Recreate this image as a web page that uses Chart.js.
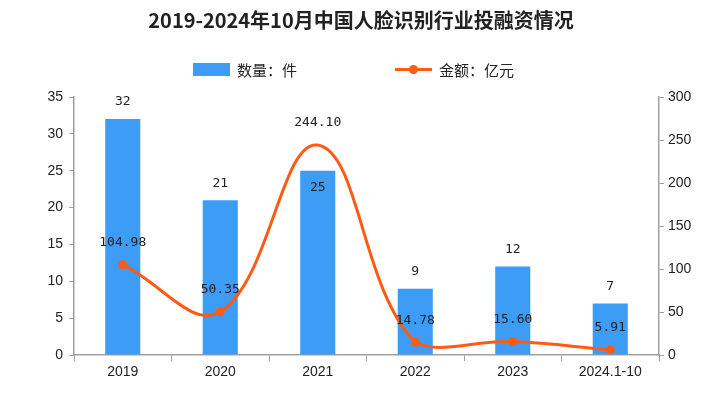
<!DOCTYPE html>
<html>
<head>
<meta charset="utf-8">
<script src="https://cdn.jsdelivr.net/npm/chart.js@4.4.1/dist/chart.umd.min.js"></script>
<style>
  body{margin:0;background:#fff;}
  #wrap{position:relative;width:722px;height:394px;}
  #legend{position:absolute;top:59px;left:0;width:722px;height:20px;font:15px "Noto Sans CJK SC",sans-serif;color:#222;}
  .item{position:absolute;top:0;height:20px;display:flex;align-items:center;}
  .box{width:37px;height:13px;margin-right:7px;}
  .ln{position:relative;width:37px;height:3px;margin-right:7px;}
  .ln i{position:absolute;left:14px;top:-3px;width:9px;height:9px;border-radius:50%;}
</style>
</head>
<body>
<div id="wrap">
  <canvas id="chart" width="722" height="394"></canvas>
  <div id="legend"></div>
</div>
<script>
// data
const years = ["2019", "2020", "2021", "2022", "2023", "2024.1-10"];
const counts = [32, 21, 25, 9, 12, 7];
const amounts = [104.98, 50.35, 244.10, 14.78, 15.60, 5.91];
const countTicks = {min: 0, max: 35, step: 5};
const amountTicks = {min: 0, max: 300, step: 50};

const barColor = "#3d9cf5";
const lineColor = "#ff5b14";
const axisColor = "#a0a0a0";

// numbers over the marks
const valueLabels = {
  id: "valueLabels",
  afterDatasetsDraw(chart) {
    let ctx = chart.ctx;
    let bars = chart.getDatasetMeta(0).data;
    let pts = chart.getDatasetMeta(1).data;
    ctx.save();
    ctx.font = '13px "DejaVu Sans Mono"';
    ctx.fillStyle = "#222";
    ctx.textAlign = "center";
    ctx.textBaseline = "middle";
    bars.forEach((bar, i) => {
      let y = bar.y - 17;
      // put it inside the bar when the line label sits just above
      if (pts[i].y < bar.y && bar.y - pts[i].y < 45) y = bar.y + 17;
      ctx.fillText(counts[i], bar.x, y);
    });
    pts.forEach((pt, i) => {
      ctx.fillText(amounts[i].toFixed(2), pt.x, pt.y - 22);
    });
    ctx.restore();
  }
};

const chartX = document.getElementById("chart").getContext("2d");
const config = new Chart(chartX, {
  type: "bar",
  data: {
    labels: years,
    datasets: [{
      label: "数量：件",
      data: counts,
      backgroundColor: barColor,
      barPercentage: 0.36,
      categoryPercentage: 1,
      yAxisID: "y",
      order: 1
    },
    {
      type: "line",
      label: "金额：亿元",
      data: amounts,
      borderColor: lineColor,
      backgroundColor: lineColor,
      borderWidth: 3,
      tension: 0.4,
      pointRadius: [4.5, 4.5, 0, 4.5, 4.5, 4.5],
      pointBackgroundColor: lineColor,
      pointBorderWidth: 0,
      yAxisID: "y1",
      order: 0
    }]
  },
  options: {
    responsive: false,
    animation: false,
    layout: {padding: 0},
    plugins: {
      legend: {display: false},
      tooltip: {enabled: false},
      title: {
        display: true,
        text: "2019-2024年10月中国人脸识别行业投融资情况",
        color: "#222",
        font: {size: 20, weight: "bold", family: '"Noto Sans CJK SC", sans-serif', lineHeight: 1.2},
        padding: {top: 8, bottom: 65}
      }
    },
    scales: {
      x: {
        offset: true,
        grid: {offset: true, drawOnChartArea: false, tickLength: 6, color: axisColor},
        border: {color: axisColor, width: 1.5},
        ticks: {color: "#222", font: {size: 14, family: "Liberation Sans"}, padding: 3, maxRotation: 0},
        afterFit(s) { s.height = 39; }
      },
      y: {
        position: "left",
        min: countTicks.min,
        max: countTicks.max,
        grid: {drawOnChartArea: false, tickLength: 5, color: axisColor},
        border: {color: axisColor, width: 1.5},
        ticks: {stepSize: countTicks.step, color: "#222", font: {size: 14, family: "Liberation Sans"}, padding: 6},
        afterFit(s) { s.width = 74; }
      },
      y1: {
        position: "right",
        min: amountTicks.min,
        max: amountTicks.max,
        grid: {drawOnChartArea: false, tickLength: 5, color: axisColor},
        border: {color: axisColor, width: 1.5},
        ticks: {stepSize: amountTicks.step, color: "#222", font: {size: 14, family: "Liberation Sans"}, padding: 4},
        afterFit(s) { s.width = 63; }
      }
    }
  },
  plugins: [valueLabels]
});

// html legend built from the datasets
let lg = document.getElementById("legend");
let lefts = [193, 395];
config.data.datasets.forEach((ds, i) => {
  let it = document.createElement("div");
  it.className = "item";
  it.style.left = lefts[i] + "px";
  if (ds.type == "line") {
    it.innerHTML = `<span class="ln" style="background:${ds.borderColor}"><i style="background:${ds.borderColor}"></i></span>${ds.label}`;
  } else {
    it.innerHTML = `<span class="box" style="background:${ds.backgroundColor}"></span>${ds.label}`;
  }
  lg.appendChild(it);
});
</script>
</body>
</html>
